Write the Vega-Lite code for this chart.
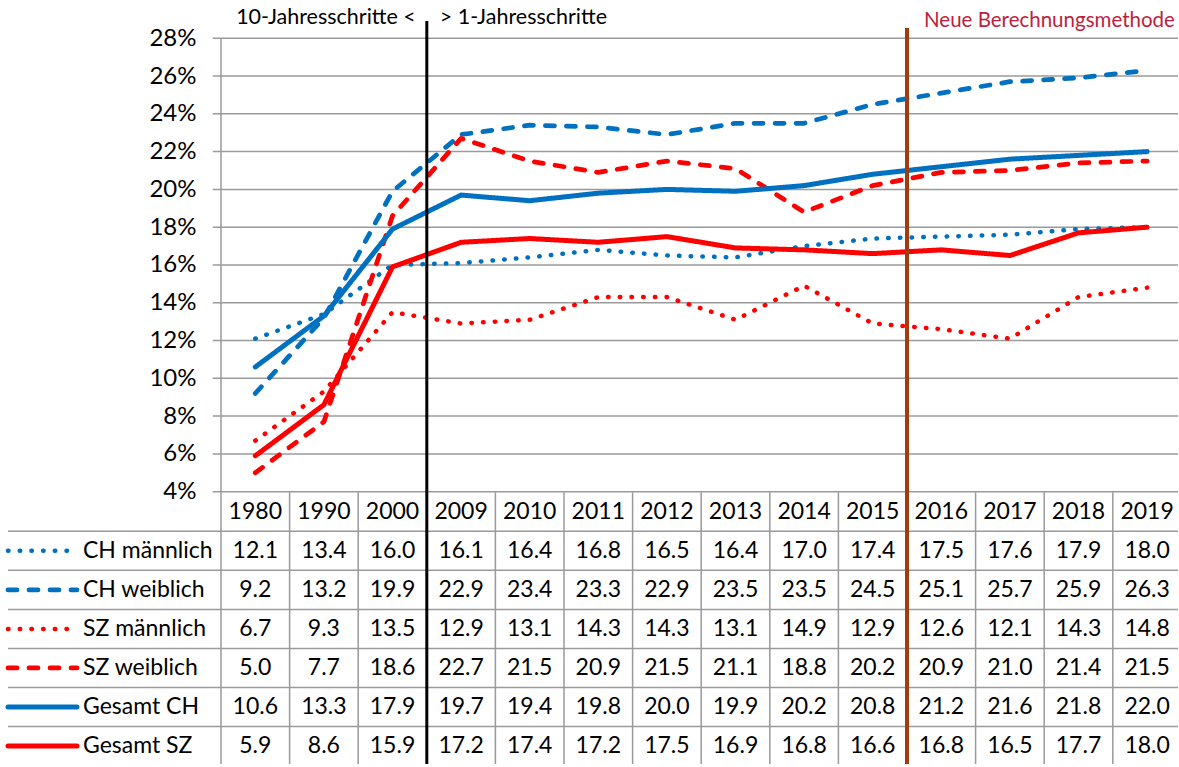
{
  "$schema": "https://vega.github.io/schema/vega-lite/v6.json",
  "width": 1179,
  "height": 767,
  "autosize": {"type": "fit", "contains": "padding"},
  "padding": 0,
  "background": "white",
  "config": {"view": {"stroke": null}, "font": "Lato", "text": {"font": "Lato", "fontSize": 23, "color": "#000000"}},
  "datasets": {
    "series": [
      {"series": "CH männlich", "region": "CH", "kind": "männlich", "row": 1},
      {"series": "CH weiblich", "region": "CH", "kind": "weiblich", "row": 2},
      {"series": "SZ männlich", "region": "SZ", "kind": "männlich", "row": 3},
      {"series": "SZ weiblich", "region": "SZ", "kind": "weiblich", "row": 4},
      {"series": "Gesamt CH", "region": "CH", "kind": "Gesamt", "row": 5},
      {"series": "Gesamt SZ", "region": "SZ", "kind": "Gesamt", "row": 6}
    ],
    "table": [
      {"i": 0, "year": "1980", "CH männlich": 12.1, "CH weiblich": 9.2, "SZ männlich": 6.7, "SZ weiblich": 5.0, "Gesamt CH": 10.6, "Gesamt SZ": 5.9},
      {"i": 1, "year": "1990", "CH männlich": 13.4, "CH weiblich": 13.2, "SZ männlich": 9.3, "SZ weiblich": 7.7, "Gesamt CH": 13.3, "Gesamt SZ": 8.6},
      {"i": 2, "year": "2000", "CH männlich": 16.0, "CH weiblich": 19.9, "SZ männlich": 13.5, "SZ weiblich": 18.6, "Gesamt CH": 17.9, "Gesamt SZ": 15.9},
      {"i": 3, "year": "2009", "CH männlich": 16.1, "CH weiblich": 22.9, "SZ männlich": 12.9, "SZ weiblich": 22.7, "Gesamt CH": 19.7, "Gesamt SZ": 17.2},
      {"i": 4, "year": "2010", "CH männlich": 16.4, "CH weiblich": 23.4, "SZ männlich": 13.1, "SZ weiblich": 21.5, "Gesamt CH": 19.4, "Gesamt SZ": 17.4},
      {"i": 5, "year": "2011", "CH männlich": 16.8, "CH weiblich": 23.3, "SZ männlich": 14.3, "SZ weiblich": 20.9, "Gesamt CH": 19.8, "Gesamt SZ": 17.2},
      {"i": 6, "year": "2012", "CH männlich": 16.5, "CH weiblich": 22.9, "SZ männlich": 14.3, "SZ weiblich": 21.5, "Gesamt CH": 20.0, "Gesamt SZ": 17.5},
      {"i": 7, "year": "2013", "CH männlich": 16.4, "CH weiblich": 23.5, "SZ männlich": 13.1, "SZ weiblich": 21.1, "Gesamt CH": 19.9, "Gesamt SZ": 16.9},
      {"i": 8, "year": "2014", "CH männlich": 17.0, "CH weiblich": 23.5, "SZ männlich": 14.9, "SZ weiblich": 18.8, "Gesamt CH": 20.2, "Gesamt SZ": 16.8},
      {"i": 9, "year": "2015", "CH männlich": 17.4, "CH weiblich": 24.5, "SZ männlich": 12.9, "SZ weiblich": 20.2, "Gesamt CH": 20.8, "Gesamt SZ": 16.6},
      {"i": 10, "year": "2016", "CH männlich": 17.5, "CH weiblich": 25.1, "SZ männlich": 12.6, "SZ weiblich": 20.9, "Gesamt CH": 21.2, "Gesamt SZ": 16.8},
      {"i": 11, "year": "2017", "CH männlich": 17.6, "CH weiblich": 25.7, "SZ männlich": 12.1, "SZ weiblich": 21.0, "Gesamt CH": 21.6, "Gesamt SZ": 16.5},
      {"i": 12, "year": "2018", "CH männlich": 17.9, "CH weiblich": 25.9, "SZ männlich": 14.3, "SZ weiblich": 21.4, "Gesamt CH": 21.8, "Gesamt SZ": 17.7},
      {"i": 13, "year": "2019", "CH männlich": 18.0, "CH weiblich": 26.3, "SZ männlich": 14.8, "SZ weiblich": 21.5, "Gesamt CH": 22.0, "Gesamt SZ": 18.0}
    ],
    "ticks": [{"v": 4}, {"v": 6}, {"v": 8}, {"v": 10}, {"v": 12}, {"v": 14}, {"v": 16}, {"v": 18}, {"v": 20}, {"v": 22}, {"v": 24}, {"v": 26}, {"v": 28}]
  },
  "resolve": {"scale": {"y": "independent"}},
  "layer": [
    {
      "layer": [
        {
          "data": {"name": "ticks"},
          "mark": {"type": "rule", "color": "#9a9a9a", "strokeWidth": 1.5},
          "encoding": {
            "x": {"datum": -0.62, "type": "quantitative", "scale": {"domain": [-3.7216, 13.465], "nice": false, "zero": false}, "axis": null},
            "x2": {"datum": 13.45},
            "y": {"field": "v", "type": "quantitative", "scale": {"domain": [-10.521, 30.025], "nice": false, "zero": false},
              "axis": {"values": [4, 6, 8, 10, 12, 14, 16, 18, 20, 22, 24, 26, 28], "labelExpr": "datum.value + '%'", "domain": false, "ticks": false, "grid": false, "labelFontSize": 24, "labelFont": "Lato", "labelColor": "#000000", "labelPadding": 25, "offset": -221, "title": null}}
          }
        },
        {
          "data": {"values": [{}]},
          "mark": {"type": "rule", "color": "#9a9a9a", "strokeWidth": 1.5},
          "encoding": {
            "x": {"datum": -0.5, "type": "quantitative", "scale": {"domain": [-3.7216, 13.465], "nice": false, "zero": false}, "axis": null},
            "y": {"datum": 28, "type": "quantitative", "scale": {"domain": [-10.521, 30.025], "nice": false, "zero": false},
              "axis": {"values": [4, 6, 8, 10, 12, 14, 16, 18, 20, 22, 24, 26, 28], "labelExpr": "datum.value + '%'", "domain": false, "ticks": false, "grid": false, "labelFontSize": 24, "labelFont": "Lato", "labelColor": "#000000", "labelPadding": 25, "offset": -221, "title": null}},
            "y2": {"datum": 4}
          }
        },
        {
          "data": {"name": "table"},
          "transform": [
            {"fold": ["CH männlich", "CH weiblich", "SZ männlich", "SZ weiblich", "Gesamt CH", "Gesamt SZ"], "as": ["series", "value"]},
            {"lookup": "series", "from": {"data": {"name": "series"}, "key": "series", "fields": ["region", "kind", "row"]}}
          ],
          "mark": {"type": "line", "interpolate": "linear", "strokeCap": "round", "strokeJoin": "round"},
          "encoding": {
            "x": {"field": "i", "type": "quantitative", "scale": {"domain": [-3.7216, 13.465], "nice": false, "zero": false}, "axis": null},
            "y": {"field": "value", "type": "quantitative", "scale": {"domain": [-10.521, 30.025], "nice": false, "zero": false},
              "axis": {"values": [4, 6, 8, 10, 12, 14, 16, 18, 20, 22, 24, 26, 28], "labelExpr": "datum.value + '%'", "domain": false, "ticks": false, "grid": false, "labelFontSize": 24, "labelFont": "Lato", "labelColor": "#000000", "labelPadding": 25, "offset": -221, "title": null}},
            "color": {"field": "region", "type": "nominal", "scale": {"domain": ["CH", "SZ"], "range": ["#0070C0", "#FF0000"]}, "legend": null},
            "strokeDash": {"field": "kind", "type": "nominal", "scale": {"domain": ["männlich", "weiblich", "Gesamt"], "range": [[0.5, 11.2], [9, 12], [1, 0]]}, "legend": null},
            "strokeWidth": {"field": "kind", "type": "nominal", "scale": {"domain": ["männlich", "weiblich", "Gesamt"], "range": [4.5, 5, 7]}, "legend": null},
            "detail": {"field": "series", "type": "nominal"}
          }
        }
      ]
    },
    {
      "layer": [
        {
          "data": {"name": "series"},
          "mark": {"type": "rule", "color": "#9a9a9a", "strokeWidth": 1.5, "yOffset": -19.55},
          "encoding": {
            "x": {"datum": -3.605, "type": "quantitative", "scale": {"domain": [-3.7216, 13.465], "nice": false, "zero": false}, "axis": null},
            "x2": {"datum": 13.45},
            "y": {"field": "row", "type": "quantitative", "scale": {"domain": [-13.102, 6.509], "reverse": true, "nice": false, "zero": false}, "axis": null}
          }
        },
        {
          "data": {"name": "table"},
          "mark": {"type": "rule", "color": "#9a9a9a", "strokeWidth": 1.5, "xOffset": -34.3},
          "encoding": {
            "x": {"field": "i", "type": "quantitative", "scale": {"domain": [-3.7216, 13.465], "nice": false, "zero": false}, "axis": null},
            "y": {"datum": -0.5, "type": "quantitative", "scale": {"domain": [-13.102, 6.509], "reverse": true, "nice": false, "zero": false}, "axis": null},
            "y2": {"datum": 6.46}
          }
        },
        {
          "data": {"name": "table"},
          "mark": {"type": "text", "align": "center", "baseline": "middle", "fontSize": 23},
          "encoding": {
            "x": {"field": "i", "type": "quantitative", "scale": {"domain": [-3.7216, 13.465], "nice": false, "zero": false}, "axis": null},
            "y": {"datum": 0, "type": "quantitative", "scale": {"domain": [-13.102, 6.509], "reverse": true, "nice": false, "zero": false}, "axis": null},
            "text": {"field": "year", "type": "nominal"}
          }
        },
        {
          "data": {"name": "table"},
          "transform": [
            {"fold": ["CH männlich", "CH weiblich", "SZ männlich", "SZ weiblich", "Gesamt CH", "Gesamt SZ"], "as": ["series", "value"]},
            {"lookup": "series", "from": {"data": {"name": "series"}, "key": "series", "fields": ["row"]}}
          ],
          "mark": {"type": "text", "align": "center", "baseline": "middle", "fontSize": 23},
          "encoding": {
            "x": {"field": "i", "type": "quantitative", "scale": {"domain": [-3.7216, 13.465], "nice": false, "zero": false}, "axis": null},
            "y": {"field": "row", "type": "quantitative", "scale": {"domain": [-13.102, 6.509], "reverse": true, "nice": false, "zero": false}, "axis": null},
            "text": {"field": "value", "type": "quantitative", "format": ".1f"}
          }
        },
        {
          "data": {"name": "series"},
          "mark": {"type": "rule", "strokeCap": "round"},
          "encoding": {
            "x": {"datum": -3.605, "type": "quantitative", "scale": {"domain": [-3.7216, 13.465], "nice": false, "zero": false}, "axis": null},
            "x2": {"datum": -2.6},
            "y": {"field": "row", "type": "quantitative", "scale": {"domain": [-13.102, 6.509], "reverse": true, "nice": false, "zero": false}, "axis": null},
            "color": {"field": "region", "type": "nominal", "scale": {"domain": ["CH", "SZ"], "range": ["#0070C0", "#FF0000"]}, "legend": null},
            "strokeDash": {"field": "kind", "type": "nominal", "scale": {"domain": ["männlich", "weiblich", "Gesamt"], "range": [[0.5, 11.2], [9, 12], [1, 0]]}, "legend": null},
            "strokeWidth": {"field": "kind", "type": "nominal", "scale": {"domain": ["männlich", "weiblich", "Gesamt"], "range": [4.5, 5, 7]}, "legend": null}
          }
        },
        {
          "data": {"name": "series"},
          "mark": {"type": "text", "align": "left", "baseline": "middle", "fontSize": 23},
          "encoding": {
            "x": {"datum": -2.512, "type": "quantitative", "scale": {"domain": [-3.7216, 13.465], "nice": false, "zero": false}, "axis": null},
            "y": {"field": "row", "type": "quantitative", "scale": {"domain": [-13.102, 6.509], "reverse": true, "nice": false, "zero": false}, "axis": null},
            "text": {"field": "series", "type": "nominal"}
          }
        },
        {
          "data": {"values": [{}]},
          "mark": {"type": "rule", "color": "#000000", "strokeWidth": 3},
          "encoding": {
            "x": {"datum": 2.5, "type": "quantitative", "scale": {"domain": [-3.7216, 13.465], "nice": false, "zero": false}, "axis": null},
            "y": {"datum": -12.565, "type": "quantitative", "scale": {"domain": [-13.102, 6.509], "reverse": true, "nice": false, "zero": false}, "axis": null},
            "y2": {"datum": 6.46}
          }
        },
        {
          "data": {"values": [{}]},
          "mark": {"type": "rule", "color": "#A33B0E", "strokeWidth": 4},
          "encoding": {
            "x": {"datum": 9.5, "type": "quantitative", "scale": {"domain": [-3.7216, 13.465], "nice": false, "zero": false}, "axis": null},
            "y": {"datum": -12.386, "type": "quantitative", "scale": {"domain": [-13.102, 6.509], "reverse": true, "nice": false, "zero": false}, "axis": null},
            "y2": {"datum": 6.46}
          }
        },
        {
          "data": {"values": [{}]},
          "mark": {"type": "text", "align": "right", "baseline": "middle", "fontSize": 21.5, "dx": -11, "text": "10-Jahresschritte <"},
          "encoding": {
            "x": {"datum": 2.5, "type": "quantitative", "scale": {"domain": [-3.7216, 13.465], "nice": false, "zero": false}, "axis": null},
            "y": {"datum": -12.642, "type": "quantitative", "scale": {"domain": [-13.102, 6.509], "reverse": true, "nice": false, "zero": false}, "axis": null}
          }
        },
        {
          "data": {"values": [{}]},
          "mark": {"type": "text", "align": "left", "baseline": "middle", "fontSize": 21.5, "dx": 13, "text": "> 1-Jahresschritte"},
          "encoding": {
            "x": {"datum": 2.5, "type": "quantitative", "scale": {"domain": [-3.7216, 13.465], "nice": false, "zero": false}, "axis": null},
            "y": {"datum": -12.642, "type": "quantitative", "scale": {"domain": [-13.102, 6.509], "reverse": true, "nice": false, "zero": false}, "axis": null}
          }
        },
        {
          "data": {"values": [{}]},
          "mark": {"type": "text", "align": "left", "baseline": "middle", "fontSize": 20.5, "dx": 17, "color": "#BE1E3C", "text": "Neue Berechnungsmethode"},
          "encoding": {
            "x": {"datum": 9.5, "type": "quantitative", "scale": {"domain": [-3.7216, 13.465], "nice": false, "zero": false}, "axis": null},
            "y": {"datum": -12.565, "type": "quantitative", "scale": {"domain": [-13.102, 6.509], "reverse": true, "nice": false, "zero": false}, "axis": null}
          }
        }
      ]
    }
  ]
}
